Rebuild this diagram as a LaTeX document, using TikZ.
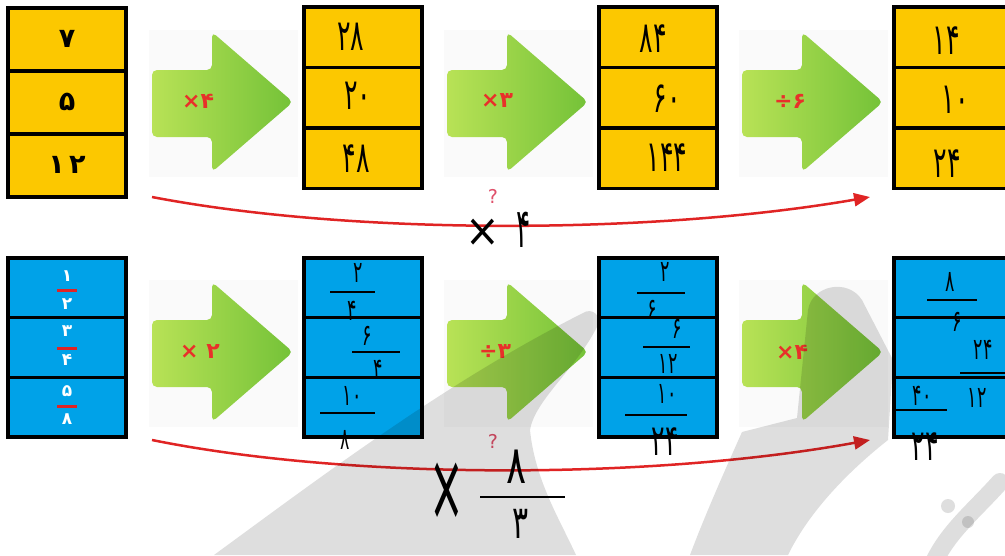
\documentclass[tikz,border=0pt]{standalone}
\usepackage{fontspec}
\newfontfamily\fa{DejaVu Sans}
\usetikzlibrary{arrows.meta}
\definecolor{cYellow}{HTML}{FCC800}
\definecolor{cBlue}{HTML}{00A2E8}
\definecolor{cGreenA}{HTML}{B8E256}
\definecolor{cGreenB}{HTML}{74C238}
\definecolor{cRed}{HTML}{E02424}
\definecolor{cLbl}{HTML}{E8302A}
\definecolor{cQ}{HTML}{E0506A}
\newcommand\hwsq[2][0.7]{\scalebox{#1}[1.2]{#2}}
\newcommand\greenarrowat[2]{%
  \begin{scope}[shift={(#1,#2)}]
    \fill[black!2] (-3,-2) rectangle (146,145);
    \shade[left color=cGreenA, right color=cGreenB, rounded corners=5pt]
      (0,38) -- (60,38) -- (60,0) -- (141,70) -- (60,140) -- (60,105) -- (0,105) -- cycle;
  \end{scope}}
\tikzset{
  cellbase/.style={draw=black, line width=3.5pt, minimum width=118pt, inner sep=0pt, outer sep=0pt},
  ycellbox/.style={cellbase, fill=cYellow},
  bcellbox/.style={cellbase, fill=cBlue},
  printed/.style={font=\fa\bfseries\fontsize{27}{29}\selectfont, text=black, inner sep=0pt},
  wfrac/.style={font=\fa\bfseries\fontsize{17}{19}\selectfont, text=white, inner sep=0pt},
  oplabel/.style={font=\fa\bfseries\fontsize{22}{24}\selectfont, text=cLbl, inner sep=0pt},
  hw/.style={font=\fa\fontsize{36}{38}\selectfont, text=black, inner sep=0pt},
  hwsmall/.style={font=\fa\fontsize{25}{27}\selectfont, text=black, inner sep=0pt},
  hwbar/.style={draw=black, line width=1.8pt},
  redbar/.style={draw=cRed, line width=3pt},
  qmark/.style={font=\fa\fontsize{19}{20}\selectfont, text=cQ, inner sep=0pt},
  redcurve/.style={draw=cRed, line width=2.5pt, -{Triangle[length=16pt,width=13pt]}},
  wmark/.style={fill=black, fill opacity=0.13, draw=none}
}
\begin{document}
\begin{tikzpicture}[x=1pt,y=-1pt]
\clip (0,0) rectangle (1005,555);
\fill[white] (0,0) rectangle (1005,555);

% green arrows
\greenarrowat{152}{32}
\greenarrowat{447}{32}
\greenarrowat{742}{32}
\greenarrowat{152}{282}
\greenarrowat{447}{282}
\greenarrowat{742}{282}

% operation labels
\node[oplabel] (op1) at (198,101) {×۴};
\node[oplabel] (op2) at (497,101) {×۳};
\node[oplabel] (op3) at (790,101) {÷۶};
\node[oplabel] (op4) at (200,352) {× ۲};
\node[oplabel] (op5) at (495,352) {÷۳};
\node[oplabel] (op6) at (792,352) {×۴};

% top yellow boxes
\node[ycellbox, minimum height=63pt] (t1a) at (67,39.5) {};
\node[ycellbox, minimum height=63pt] (t1b) at (67,102.5) {};
\node[ycellbox, minimum height=63pt] (t1c) at (67,165.5) {};
\foreach \xx/\nm in {363/t2,658/t3,953/t4}{
  \node[ycellbox, minimum height=60.5pt] (\nm a) at (\xx,37.25) {};
  \node[ycellbox, minimum height=60.5pt] (\nm b) at (\xx,97.75) {};
  \node[ycellbox, minimum height=60.5pt] (\nm c) at (\xx,158.25) {};
}
% bottom blue boxes
\foreach \xx/\nm in {67/b1,363/b2,658/b3,953/b4}{
  \node[bcellbox, minimum height=59.75pt] (\nm a) at (\xx,287.75) {};
  \node[bcellbox, minimum height=59.75pt] (\nm b) at (\xx,347.5) {};
  \node[bcellbox, minimum height=59.75pt] (\nm c) at (\xx,407.25) {};
}

% printed numbers
\node[printed] (p1) at (67,39) {۷};
\node[printed] (p2) at (67,102) {۵};
\node[printed] (p3) at (67,165) {۱\,۲};

% printed fractions (blue box 1)
\node[wfrac] (f1n) at (67,276) {۱};
\draw[redbar] (57,290) -- (77,290);
\node[wfrac] (f1d) at (67,304) {۲};
\node[wfrac] (f2n) at (67,331) {۳};
\draw[redbar] (57,348) -- (77,348);
\node[wfrac] (f2d) at (67,360) {۴};
\node[wfrac] (f3n) at (67,391) {۵};
\draw[redbar] (57,406) -- (77,406);
\node[wfrac] (f3d) at (67,419) {۸};

% handwritten results, top row
\node[hw] (h21) at (351,37) {\hwsq{۲۸}};
\node[hw] (h22) at (358,96) {\hwsq{۲۰}};
\node[hw] (h23) at (356,159) {\hwsq{۴۸}};
\node[hw] (h31) at (653,39) {\hwsq{۸۴}};
\node[hw] (h32) at (667,99) {\hwsq{۶۰}};
\node[hw] (h33) at (667,158) {\hwsq{۱۴۴}};
\node[hw] (h41) at (946,41) {\hwsq{۱۴}};
\node[hw] (h42) at (955,100) {\hwsq{۱۰}};
\node[hw] (h43) at (947,164) {\hwsq{۲۴}};

% handwritten results, bottom row
\node[hwsmall] (g21n) at (358,273) {\hwsq{۲}};
\draw[hwbar] (330,292) -- (375,292);
\node[hwsmall] (g21d) at (352,311) {\hwsq{۴}};
\node[hwsmall] (g22n) at (367,336) {\hwsq{۶}};
\draw[hwbar] (352,352) -- (400,352);
\node[hwsmall] (g22d) at (378,370) {\hwsq{۴}};
\node[hwsmall] (g23n) at (352,396) {\hwsq{۱۰}};
\draw[hwbar] (320,413) -- (375,413);
\node[hwsmall] (g23d) at (345,440) {\hwsq{۸}};

\node[hwsmall] (g31n) at (665,272) {\hwsq{۲}};
\draw[hwbar] (637,293) -- (685,293);
\node[hwsmall] (g31d) at (652,310) {\hwsq{۶}};
\node[hwsmall] (g32n) at (677,329) {\hwsq{۶}};
\draw[hwbar] (643,347) -- (690,347);
\node[hwsmall] (g32d) at (668,364) {\hwsq{۱۲}};
\node[hwsmall] (g33n) at (667,394) {\hwsq{۱۰}};
\draw[hwbar] (625,415) -- (687,415);
\node[hw] (g33d) at (665,442) {\hwsq{۲۴}};

\node[hwsmall] (g41n) at (950,282) {\hwsq{۸}};
\draw[hwbar] (927,300) -- (977,300);
\node[hwsmall] (g41d) at (957,322) {\hwsq{۶}};
\node[hwsmall] (g42n) at (983,350) {\hwsq{۲۴}};
\draw[hwbar] (960,373) -- (1005,373);
\node[hwsmall] (g42d) at (977,398) {\hwsq{۱۲}};
\node[hwsmall] (g43n) at (922,396) {\hwsq{۴۰}};
\draw[hwbar] (895,410) -- (947,410);
\node[hw] (g43d) at (925,447) {\hwsq{۲۴}};

% red curved arrows
\coordinate (c1s) at (152,197);
\coordinate (c1e) at (870,197);
\coordinate (c2s) at (152,440);
\coordinate (c2e) at (870,440);
\draw[redcurve] (c1s) .. controls (350,235) and (650,235) .. (c1e);
\draw[redcurve] (c2s) .. controls (350,480) and (650,480) .. (c2e);

\node[qmark] (q1) at (493,196) {?};
\node[qmark] (q2) at (493,441) {?};

% handwritten overall factors
\node[hw, font=\fa\fontsize{46}{48}\selectfont] (x1) at (483,233) {\scalebox{0.9}[1]{×}};
\node[hw, font=\fa\fontsize{44}{46}\selectfont] (k1) at (524,230) {\scalebox{0.6}[1.25]{۴}};
\node[hw, font=\fa\fontsize{46}{48}\selectfont] (x2) at (447,492) {\scalebox{0.9}[2.1]{×}};
\node[hw, font=\fa\fontsize{44}{46}\selectfont] (k2n) at (517,467) {\scalebox{0.85}[1.2]{۸}};
\draw[hwbar] (480,497) -- (565,497);
\node[hw, font=\fa\fontsize{40}{42}\selectfont] (k2d) at (521,524) {\scalebox{0.75}[1.15]{۳}};

% watermark
\path[wmark] (214,555) .. controls (330,470) and (450,380) .. (583,313)
  .. controls (592,307) and (603,316) .. (597,327)
  .. controls (575,370) and (535,400) .. (530,430)
  .. controls (535,480) and (560,520) .. (576,555) -- cycle;
\path[wmark] (690,555) .. controls (705,515) and (725,470) .. (742,432)
  -- (797,418) -- (808,310)
  .. controls (812,285) and (848,278) .. (862,300)
  -- (893,360) -- (888,440)
  .. controls (850,470) and (810,510) .. (788,555) -- cycle;
\draw[black, opacity=0.13, line width=18pt, line cap=round] (1000,482) .. controls (975,510) and (950,530) .. (935,560);
\fill[black, opacity=0.13] (948,506) circle (7);
\fill[black, opacity=0.13] (968,522) circle (6);
\end{tikzpicture}
\end{document}
